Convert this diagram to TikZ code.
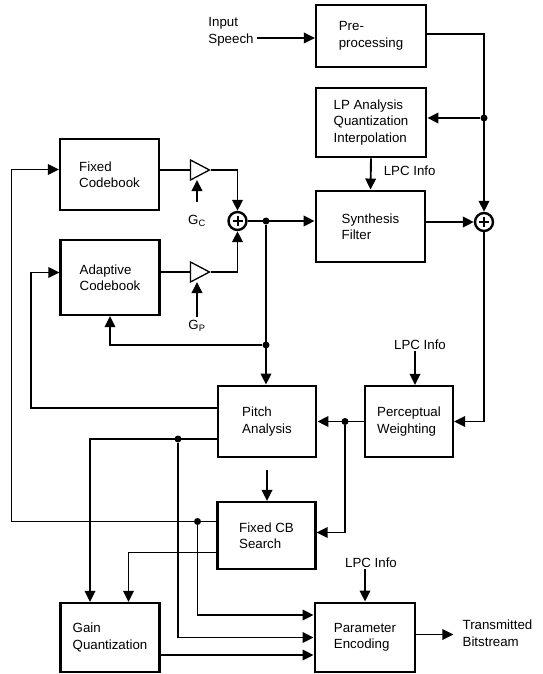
\documentclass[tikz,border=0pt]{standalone}
\usepackage{fontspec}
\setmainfont{Liberation Sans}
\usetikzlibrary{positioning, arrows.meta, shapes.geometric}
\tikzset{
  blk/.style={draw, line width=2.1pt, align=left, inner sep=2pt},
  hblk/.style={blk, line width=2.9pt},
  arr/.style={-{Triangle[length=11pt, width=10.5pt]}, line width=1.9pt},
  ln/.style={line width=1.9pt},
  amp/.style={draw, shape=isosceles triangle, isosceles triangle stretches, minimum width=20pt,
    minimum height=19pt, inner sep=0pt, line width=1.3pt},
  adder/.style={circle, draw, line width=2.4pt, minimum size=18pt, inner sep=0pt, fill=white,
    path picture={\draw[line width=2pt]
      ([yshift=-4pt]path picture bounding box.north) -- ([yshift=4pt]path picture bounding box.south)
      ([xshift=4pt]path picture bounding box.west) -- ([xshift=-4pt]path picture bounding box.east);}},
  dot/.style={circle, fill, inner sep=0pt, minimum size=7pt},
  lbl/.style={align=left, inner sep=1pt},
}

\begin{document}
\begin{tikzpicture}[x=1pt, y=-1pt, font=\fontsize{13.3}{16.5}\selectfont]
  \useasboundingbox (0,0) rectangle (542,674);
  % the blocks
  \node[blk, minimum width=110pt, minimum height=62pt] (pre) at (371,36) {Pre-\\processing};
  \node[hblk, minimum width=110pt, minimum height=69pt] (lp) at (371,122.5) {LP Analysis\\Quantization\\Interpolation};
  \node[hblk, minimum width=109pt, minimum height=71pt] (synth) at (370.5,226.5) {Synthesis\\Filter};
  \node[blk, minimum width=99pt, minimum height=71pt] (fixed) at (109.5,174.5) {Fixed\\Codebook};
  \node[blk, minimum width=99pt, minimum height=75pt] (adapt) at (110,277.5) {Adaptive\\Codebook};
  \node[hblk, minimum width=98pt, minimum height=71pt] (pitch) at (267,421.5) {Pitch\\Analysis};
  \node[blk, minimum width=88pt, minimum height=71pt] (percept) at (409,421.5) {Perceptual\\Weighting};
  \node[blk, minimum width=98pt, minimum height=67pt] (fcb) at (266.5,535.5) {Fixed CB\\Search};
  \node[blk, minimum width=99pt, minimum height=69pt] (gain) at (110,637.5) {Gain\\Quantization};
  \node[hblk, minimum width=100pt, minimum height=69pt] (param) at (365,637.5) {Parameter\\Encoding};

  % gains and adders
  \node[amp] (gc) at (196.5,170) {};
  \node[amp] (gp) at (196.5,272) {};
  \node[adder] (sum1) at (237.5,221) {};
  \node[adder] (sum2) at (484,222) {};
  \node[lbl] (gcl) at (197,221) {G\textsubscript{C}};
  \node[lbl] (gpl) at (197,326) {G\textsubscript{P}};

  % texts
  \node[lbl] (speech) at (231,32) {Input\\Speech};
  \node[lbl] (lpc2) at (420,345) {LPC Info};
  \node[lbl] (lpc3) at (371,563) {LPC Info};
  \node[lbl] (bits) at (497.5,633) {Transmitted\\Bitstream};

  % junctions
  \node[dot] (tap) at (484,118) {};
  \node[dot] (d1) at (266,221) {};
  \node[dot] (d2) at (266,345) {};
  \node[dot] (d3) at (345,421.5) {};
  \node[dot] (d4) at (178,439) {};
  \node[dot] (d5) at (197.5,521.5) {};
  \coordinate (fbA) at (31,340);
  \coordinate (fbB) at (11.5,340);

  % input side
  \draw[arr] ([xshift=2pt,yshift=-6pt]speech.east) -- ([yshift=-6pt]speech.east -| pre.west);
  \draw[arr] ([yshift=2pt]pre.east) -| (sum2.north);
  \draw[arr] (tap) -- (tap -| lp.east);
  \draw[arr] (lp.south) -- node[lbl, anchor=west, xshift=11pt, pos=0.38] {LPC Info} (synth.north);

  % excitation
  \draw[ln] (gc.west -| fixed.east) -- (gc.west);
  \draw[ln] (gp.west -| adapt.east) -- (gp.west);
  \draw[arr] (gc.east) -| (sum1.north);
  \draw[arr] (gp.east) -| (sum1.south);
  \draw[arr] ([yshift=12pt]gcl.north) -- ([yshift=-10pt]gcl.north |- gc.center);
  \draw[arr] ([yshift=2pt]gpl.north) -- ([yshift=-10pt]gpl.north |- gp.center);
  \draw[arr] (sum1.east) -- (sum1.east -| synth.west);
  \draw[arr] (sum2.west -| synth.east) -- (sum2.west);
  \draw[arr] (d1) -- (d1 |- pitch.north);
  \draw[arr] (d2) -| (adapt.south);

  % weighting and searches
  \draw[arr] (sum2.south) |- (percept.east);
  \draw[arr] ([xshift=-5pt]lpc2.south) -- ([xshift=-5pt]lpc2.south |- percept.north);
  \draw[arr] (percept.west) -- (percept.west -| pitch.east);
  \draw[arr] (d3) |- ([yshift=3pt]fcb.east);
  \draw[arr, shorten <=12pt] (pitch.south) -- (pitch.south |- fcb.north);
  \draw[arr] ([yshift=13.5pt]pitch.west) -| (fbA) |- ([yshift=5pt]adapt.west);
  \draw[arr] ([yshift=14pt]fcb.west) -| (fbB) |- ([yshift=5pt]fixed.west);
  \draw[arr] ([yshift=-17.5pt]pitch.west) -| ([xshift=-20pt]gain.north);
  \draw[arr] ([yshift=-17pt]fcb.west) -| ([xshift=18.5pt]gain.north);

  % parameters
  \draw[arr] (d5) |- ([yshift=22.5pt]param.west);
  \draw[arr] (d4) |- (param.west);
  \draw[arr] ([yshift=-17.5pt]gain.east) -- ([yshift=-17.5pt]gain.east -| param.west);
  \draw[arr] (lpc3.south -| param.north) -- (param.north);
  \draw[arr, shorten >=8pt] ([yshift=3pt]param.east) -- ([yshift=3pt]param.east -| bits.west);
\end{tikzpicture}
\end{document}
